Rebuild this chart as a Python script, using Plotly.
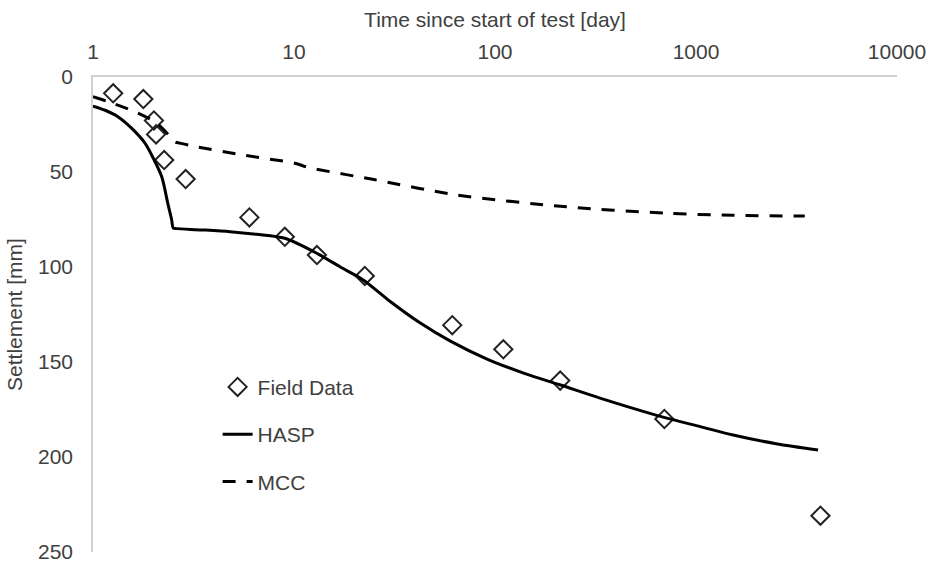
import plotly.graph_objects as go

# Field data
field_t = [1.26, 1.78, 2.01, 2.06, 2.26, 2.89, 6.0, 9.0, 13.0, 22.5, 61.3, 110, 211, 696, 4160]
field_s = [8.6, 11.6, 22.9, 30.2, 43.7, 53.7, 73.9, 84.1, 93.7, 104.7, 130.6, 143.3, 159.8, 180.0, 230.9]

# HASP model
hasp_t = [1, 1.15, 1.33, 1.55, 1.81, 2.0, 2.2, 2.35, 2.46, 2.51, 2.6, 3.5, 4.81, 6.5, 9.0, 13.2, 17, 22.1,
          30, 42.5, 60, 90.7, 140, 210, 333, 686, 1050, 1530, 2500, 4050]
hasp_s = [15.3, 17.5, 20.9, 26.8, 34.7, 43.0, 52.6, 66.0, 75.0, 79.6, 79.8, 80.5, 81.4, 82.8, 84.9, 93.2, 100.0, 106.8,
          118.0, 129.5, 139.0, 148.3, 156.0, 162.0, 169.0, 179.0, 184.0, 188.4, 193.0, 196.3]

# MCC model
mcc_t = [1, 1.188, 1.618, 2.07, 2.45, 2.56, 2.7, 3.1, 5.5, 10.1, 11.7, 25, 64.4, 227, 714, 1530, 3477]
mcc_s = [10.4, 13.0, 18.3, 24.2, 32.0, 34.2, 34.8, 36.2, 41.0, 45.4, 47.5, 54.0, 62.1, 68.3, 71.7, 72.8, 73.2]

x_ticks = [1, 10, 100, 1000, 10000]
y_ticks = [0, 50, 100, 150, 200, 250]

FONT = "Liberation Sans, Arial, sans-serif"
TXT = "#404040"
FS = 21

fig = go.Figure()
fig.add_trace(go.Scatter(
    x=field_t, y=field_s, mode="markers", name="Field Data", legendgroup="a",
    marker=dict(symbol="diamond-open", size=14, color="#222222", line=dict(width=2, color="#222222")),
))
fig.add_trace(go.Scatter(
    x=hasp_t, y=hasp_s, mode="lines", name="HASP", legendgroup="b",
    line=dict(color="black", width=3, shape="spline", smoothing=0.8),
))
fig.add_trace(go.Scatter(
    x=mcc_t, y=mcc_s, mode="lines", name="MCC", legendgroup="c",
    line=dict(color="black", width=3, dash="13px,11px", shape="spline", smoothing=0.8),
))

fig.update_layout(
    width=930, height=562,
    margin=dict(l=93, r=33, t=77, b=10),
    paper_bgcolor="white", plot_bgcolor="white",
    font=dict(family=FONT, size=FS, color=TXT),
    showlegend=True,
    legend=dict(
        x=0.155, y=0.39, xanchor="left", yanchor="top",
        bgcolor="rgba(0,0,0,0)", tracegroupgap=17,
        font=dict(family=FONT, size=FS, color=TXT),
    ),
    xaxis=dict(
        type="log", side="top", range=[0, 4], automargin=False,
        tickvals=x_ticks, ticktext=[str(v) for v in x_ticks],
        showgrid=False, zeroline=False,
        showline=True, linecolor="#d0d0d0", linewidth=1.5,
        ticks="", ticklabelstandoff=8, ticklabeloverflow="allow",
        title=dict(text="Time since start of test [day]", standoff=6,
                   font=dict(family=FONT, size=FS, color=TXT)),
    ),
    yaxis=dict(
        range=[250, 0], automargin=False,
        tickvals=y_ticks,
        showgrid=False, zeroline=False,
        showline=True, linecolor="#d0d0d0", linewidth=1.5,
        ticks="", ticklabelstandoff=14, ticklabeloverflow="allow",
        title=dict(text="Settlement [mm]", standoff=10,
                   font=dict(family=FONT, size=FS, color=TXT)),
    ),
)

fig.write_html("out.html")
